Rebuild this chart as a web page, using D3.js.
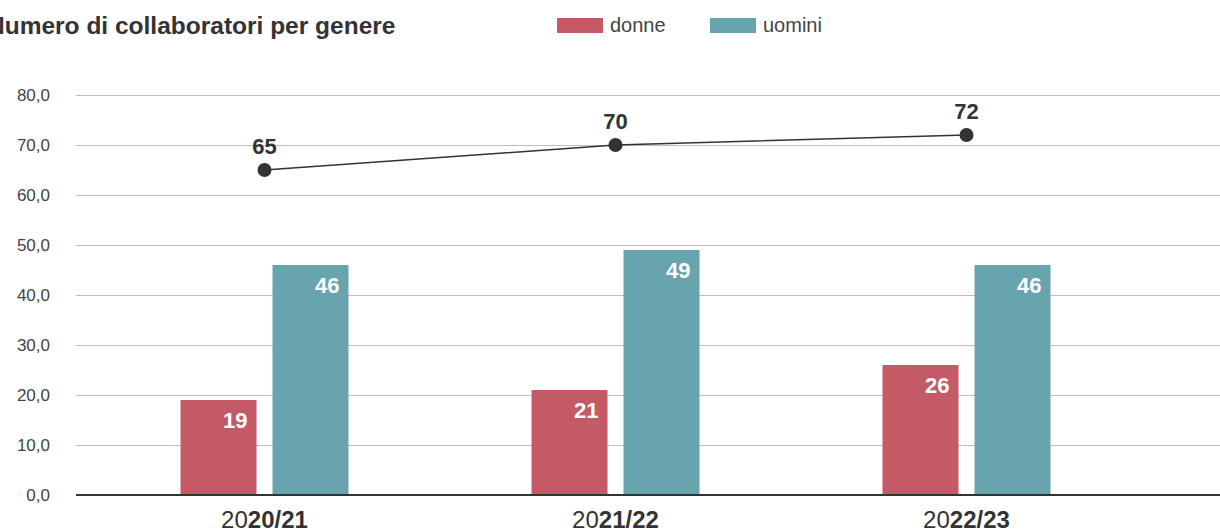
<!DOCTYPE html>
<html>
<head>
<meta charset="utf-8">
<script src="https://cdn.jsdelivr.net/npm/d3@7"></script>
<style>
  body { margin: 0; background: #fff; }
  svg { display: block; font-family: "Liberation Sans", Arial, sans-serif; }
</style>
</head>
<body>
<svg width="1220" height="532"></svg>
<script>
// data
var years = ["2020/21", "2021/22", "2022/23"];
var donne = [19, 21, 26];
var uomini = [46, 49, 46];
var totale = [65, 70, 72];
var yTicks = [0, 10, 20, 30, 40, 50, 60, 70, 80];
var seriesNames = ["donne", "uomini"];
var seriesColors = ["#c45a66", "#68a4ae"];

var svg = d3.select("svg");

// scales
var x = d3.scaleBand().domain(years).range([89, 1142]);
var y = d3.scaleLinear().domain([0, 80]).range([495, 95]);
var color = d3.scaleOrdinal().domain(seriesNames).range(seriesColors);
var barW = 76, gap = 16;

// gridlines + y labels
var fmt = function(d){ return d3.format(".1f")(d).replace(".", ","); };
svg.append("g")
    .attr("transform", "translate(76,0)")
    .call(d3.axisLeft(y).tickValues(yTicks).tickSize(-1144).tickPadding(26).tickFormat(fmt))
    .call(function(g){
        g.select(".domain").remove();
        g.selectAll(".tick line").attr("stroke", "#bdbdbd");
        g.selectAll(".tick text").attr("fill", "#444").style("font-size", "17px");
    });

// bars
var rows = years.map(function(d, i){ return {year: d, donne: donne[i], uomini: uomini[i]}; });
var groups = svg.append("g").selectAll("g").data(rows).enter().append("g")
    .attr("transform", function(d){ return "translate(" + (x(d.year) + x.bandwidth() / 2) + ",0)"; });

seriesNames.forEach(function(s, k){
    var xOff = k == 0 ? -(barW + gap / 2) : gap / 2;
    groups.append("rect")
        .attr("x", xOff)
        .attr("y", function(d){ return y(d[s]); })
        .attr("width", barW)
        .attr("height", function(d){ return y(0) - y(d[s]); })
        .attr("fill", color(s));
    groups.append("text")
        .attr("x", xOff + barW - 9)
        .attr("y", function(d){ return y(d[s]) + 28; })
        .attr("text-anchor", "end")
        .attr("fill", "#fff")
        .style("font-size", "22px")
        .style("font-weight", "bold")
        .text(function(d){ return d[s]; });
});

// baseline
svg.append("line")
    .attr("x1", 76).attr("x2", 1220)
    .attr("y1", y(0)).attr("y2", y(0))
    .attr("stroke", "#333").attr("stroke-width", 2);

// total line
var cx = function(d, i){ return x(years[i]) + x.bandwidth() / 2; };
svg.append("path")
    .datum(totale)
    .attr("fill", "none")
    .attr("stroke", "#333")
    .attr("stroke-width", 1.5)
    .attr("d", d3.line().x(cx).y(function(d){ return y(d); }));
svg.append("g").selectAll("circle").data(totale).enter().append("circle")
    .attr("cx", cx)
    .attr("cy", function(d){ return y(d); })
    .attr("r", 7)
    .attr("fill", "#333");
svg.append("g").selectAll("text").data(totale).enter().append("text")
    .attr("x", cx)
    .attr("y", function(d){ return y(d) - 16; })
    .attr("text-anchor", "middle")
    .attr("fill", "#333")
    .style("font-size", "22px")
    .style("font-weight", "bold")
    .text(function(d){ return d; });

// x labels: first two digits normal, rest bold
var xl = svg.append("g").selectAll("text").data(years).enter().append("text")
    .attr("x", function(d){ return x(d) + x.bandwidth() / 2; })
    .attr("y", 528)
    .attr("text-anchor", "middle")
    .attr("fill", "#333")
    .style("font-size", "24px");
xl.append("tspan").text(function(d){ return d.slice(0, 2); });
xl.append("tspan").style("font-weight", "bold").text(function(d){ return d.slice(2); });

// title (left edge cut off as in the original)
svg.append("text")
    .attr("x", -13).attr("y", 34)
    .attr("fill", "#333")
    .style("font-size", "24.5px")
    .style("font-weight", "bold")
    .text("Numero di collaboratori per genere");

// legend
var lg = svg.append("g").selectAll("g").data(seriesNames).enter().append("g")
    .attr("transform", function(d, i){ return "translate(" + (557 + i * 153) + ",18)"; });
lg.append("rect").attr("width", 46).attr("height", 15).attr("fill", function(d){ return color(d); });
lg.append("text").attr("x", 53).attr("y", 14).attr("fill", "#444")
    .style("font-size", "20px").text(function(d){ return d; });
</script>
</body>
</html>
